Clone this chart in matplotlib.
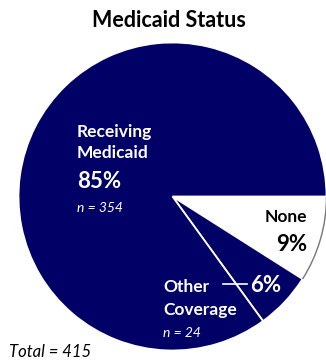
import matplotlib
matplotlib.use("Agg")
import matplotlib.pyplot as plt
from matplotlib.patches import Arc

plt.rcParams['font.family'] = ['Lato', 'DejaVu Sans']

# Medicaid status of respondents
categories = ['None', 'Other Coverage', 'Receiving Medicaid']
shares = [9, 6, 85]          # percent
counts = [None, 24, 354]
total = 415

navy = '#000066'
colors = ['white', navy, navy]

W, H = 326, 362
fig = plt.figure(figsize=(W / 100, H / 100), dpi=100)
ax = fig.add_axes([0, 0, 1, 1])

# work in pixel units, y measured from the top
def py(y):
    return H - y

cx, cy, r = 172.5, 196.5, 154

wedges, _ = ax.pie(shares, colors=colors, startangle=0, counterclock=False,
                   center=(cx, py(cy)), radius=r, frame=True,
                   wedgeprops=dict(edgecolor='white', linewidth=1.3))

# thin grey rim along the white slice
none_angle = shares[0] / 100 * 360
ax.add_patch(Arc((cx, py(cy)), 2 * r, 2 * r, theta1=-none_angle, theta2=0,
                 color='#777777', lw=1.0))

ax.set_xlim(0, W)
ax.set_ylim(0, H)
ax.set_aspect('equal')
ax.axis('off')

label_size = 12.5
pct_size = 16
n_size = 10

ax.text(169, py(27), 'Medicaid Status', ha='center', va='baseline',
        fontsize=15.5, fontweight='bold', color='black')

# Receiving Medicaid
ax.text(77, py(137), 'Receiving', ha='left', va='baseline', fontsize=label_size,
        fontweight='bold', color='white')
ax.text(77, py(158), 'Medicaid', ha='left', va='baseline', fontsize=label_size,
        fontweight='bold', color='white')
ax.text(77, py(188), f'{shares[2]}%', ha='left', va='baseline', fontsize=pct_size,
        fontweight='bold', color='white')
ax.text(77, py(212), f'n = {counts[2]}', ha='left', va='baseline', fontsize=n_size,
        style='italic', color='white')

# None
ax.text(307, py(222), 'None', ha='right', va='baseline', fontsize=label_size,
        fontweight='bold', color='black')
ax.text(307, py(251), f'{shares[0]}%', ha='right', va='baseline', fontsize=pct_size,
        fontweight='bold', color='black')

# Other Coverage
ax.text(163, py(292), 'Other', ha='left', va='baseline', fontsize=label_size,
        fontweight='bold', color='white')
ax.text(163, py(315), 'Coverage', ha='left', va='baseline', fontsize=label_size,
        fontweight='bold', color='white')
ax.text(163, py(337), f'n = {counts[1]}', ha='left', va='baseline', fontsize=n_size,
        style='italic', color='white')
ax.text(250, py(292), f'{shares[1]}%', ha='left', va='baseline', fontsize=pct_size,
        fontweight='bold', color='white')
ax.plot([223, 247], [py(284), py(284)], color='white', lw=1.2)

ax.text(9, py(357), f'Total = {total}', ha='left', va='baseline', fontsize=12,
        style='italic', color='black')

fig.savefig('out.png', dpi=100)
